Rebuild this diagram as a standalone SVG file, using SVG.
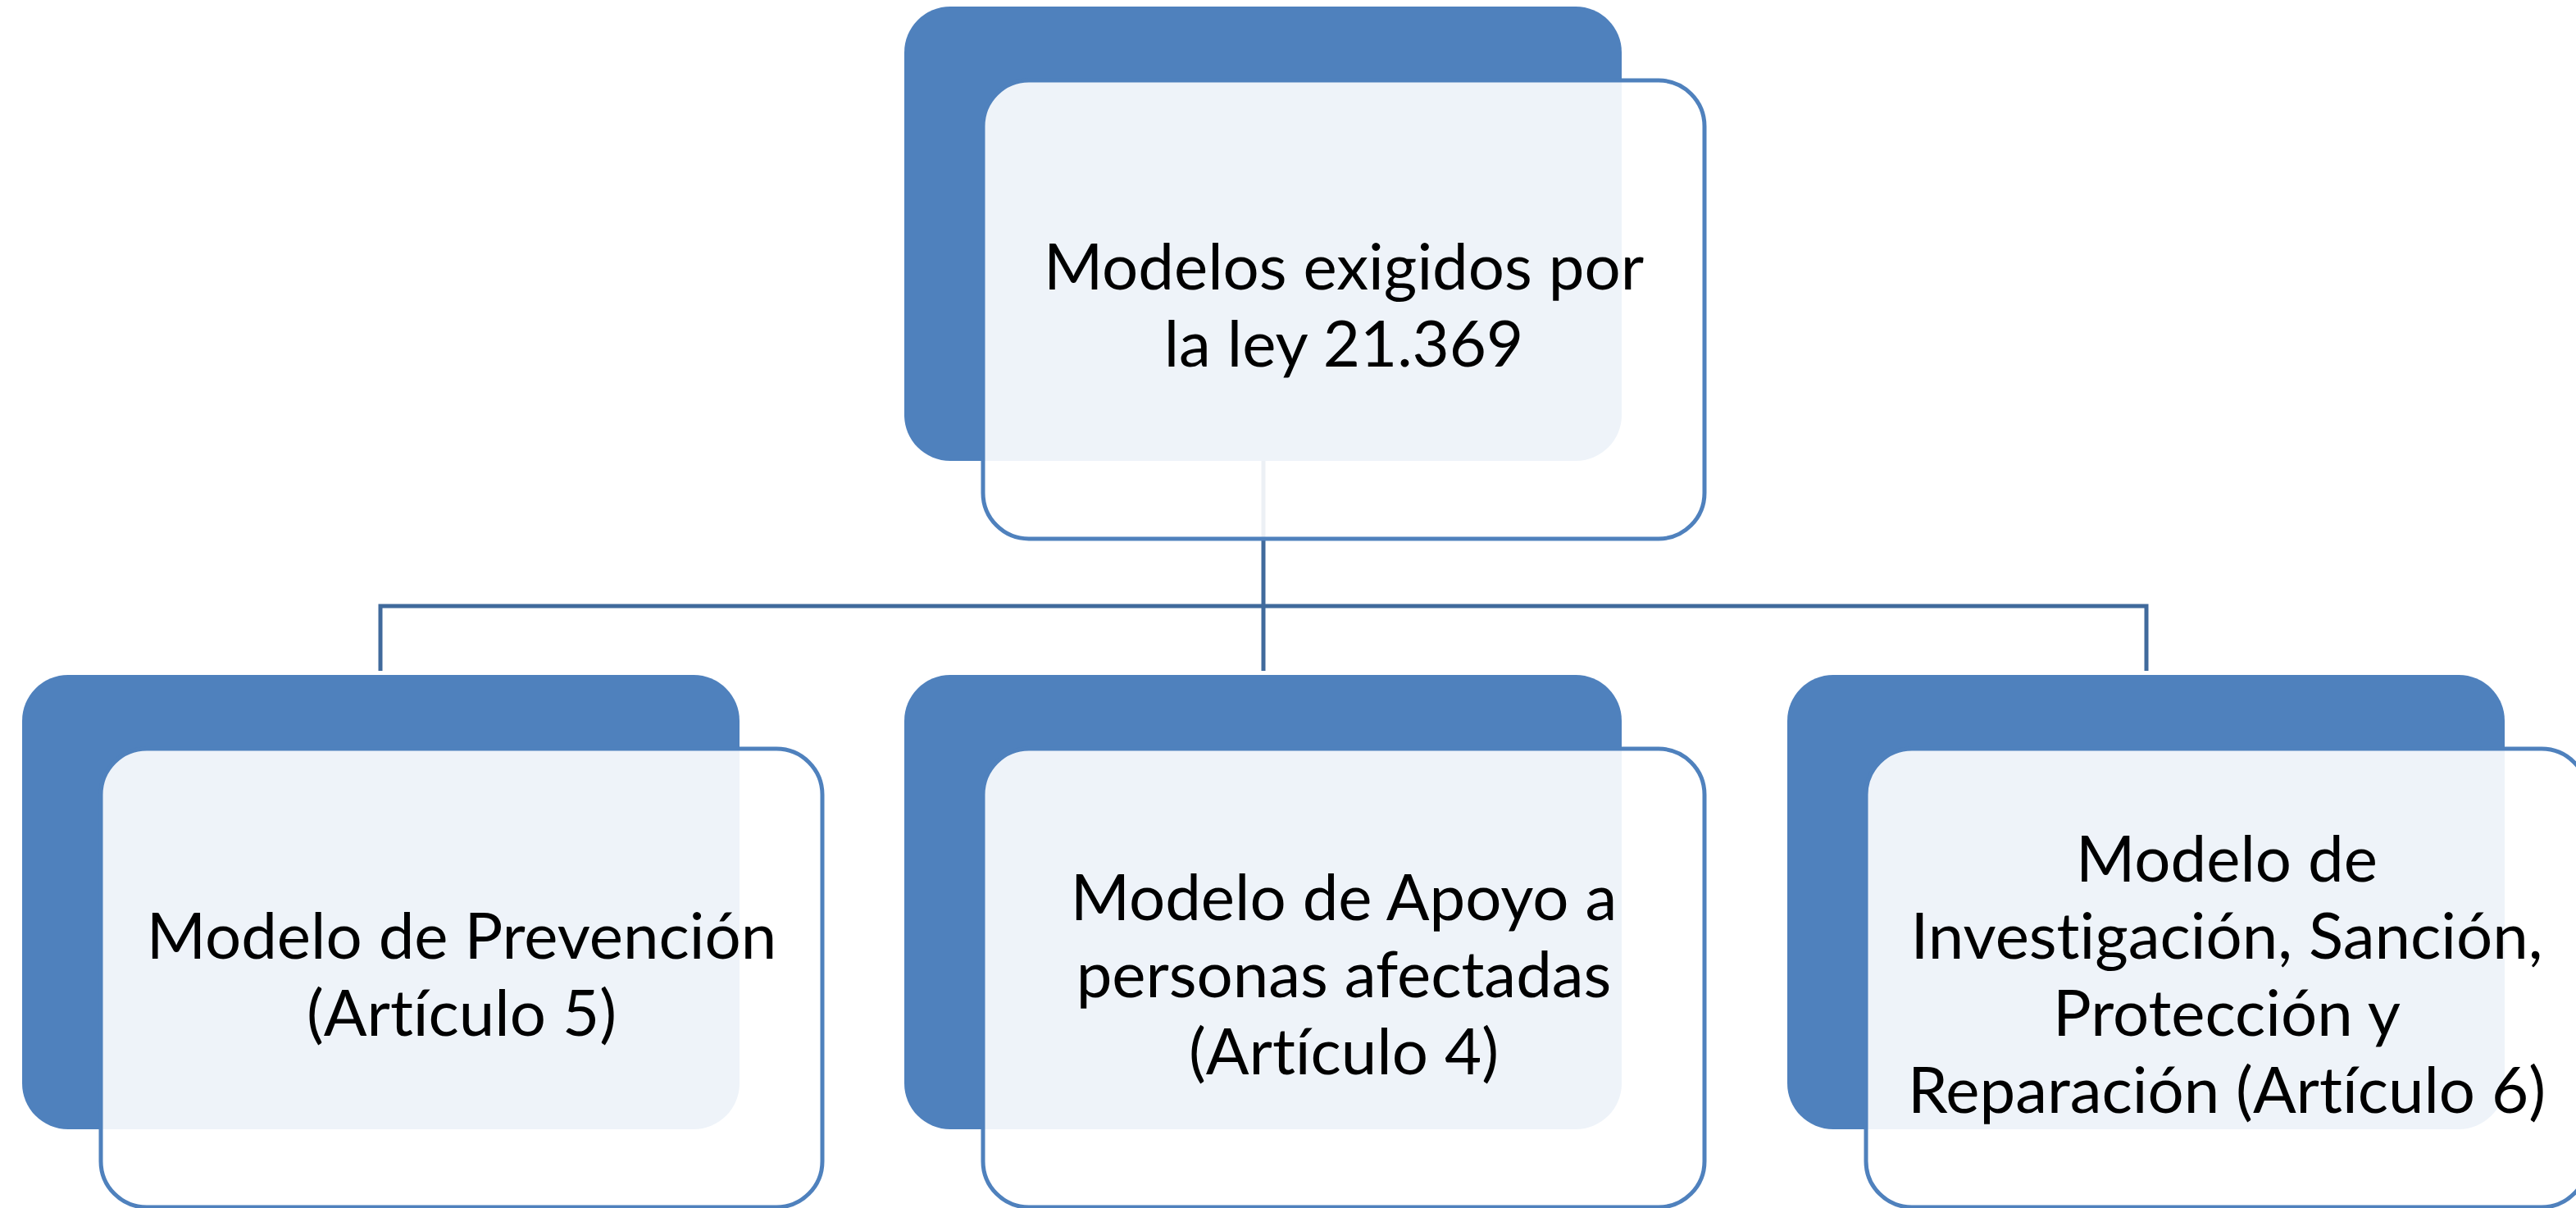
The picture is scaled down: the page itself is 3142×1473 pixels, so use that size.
<svg xmlns="http://www.w3.org/2000/svg" width="3142" height="1473" viewBox="0 0 3142 1473">
<style>
.back{fill:#4F81BD;}
.front{fill:#FFFFFF;fill-opacity:0.9;stroke:#4F81BD;stroke-width:5;}
.conn{fill:none;stroke:#406A9C;stroke-width:5;}
.lbl{font-family:Lato,"Open Sans","Liberation Sans",sans-serif;font-size:78px;fill:#000000;text-anchor:middle;font-variant-ligatures:none;font-feature-settings:"liga" 0;}
</style>
<rect width="3142" height="1473" fill="#FFFFFF"/>
<g id="connectors">
<path class="conn" d="M1541,561 V818"/>
<path class="conn" d="M464,818 V739 H2618 V818"/>
</g>
<g id="node-root">
<rect class="back" x="1103" y="8" width="875" height="554" rx="56"/>
<rect class="front" x="1199" y="98" width="880" height="559" rx="56"/>
<text class="lbl" x="1639" y="353">Modelos exigidos por</text>
<text class="lbl" x="1639" y="447">la ley 21.369</text>
</g>
<g id="node-prevencion">
<rect class="back" x="27" y="823" width="875" height="554" rx="56"/>
<rect class="front" x="123" y="913" width="880" height="559" rx="56"/>
<text class="lbl" x="563" y="1169">Modelo de Prevención</text>
<text class="lbl" x="563" y="1263">(Artículo 5)</text>
</g>
<g id="node-apoyo">
<rect class="back" x="1103" y="823" width="875" height="554" rx="56"/>
<rect class="front" x="1199" y="913" width="880" height="559" rx="56"/>
<text class="lbl" x="1639" y="1122">Modelo de Apoyo a</text>
<text class="lbl" x="1639" y="1216">personas afectadas</text>
<text class="lbl" x="1639" y="1310">(Artículo 4)</text>
</g>
<g id="node-investigacion">
<rect class="back" x="2180" y="823" width="875" height="554" rx="56"/>
<rect class="front" x="2276" y="913" width="880" height="559" rx="56"/>
<text class="lbl" x="2716" y="1075">Modelo de</text>
<text class="lbl" x="2716" y="1169">Investigación, Sanción,</text>
<text class="lbl" x="2716" y="1263">Protección y</text>
<text class="lbl" x="2716" y="1357">Reparación (Artículo 6)</text>
</g>
</svg>
